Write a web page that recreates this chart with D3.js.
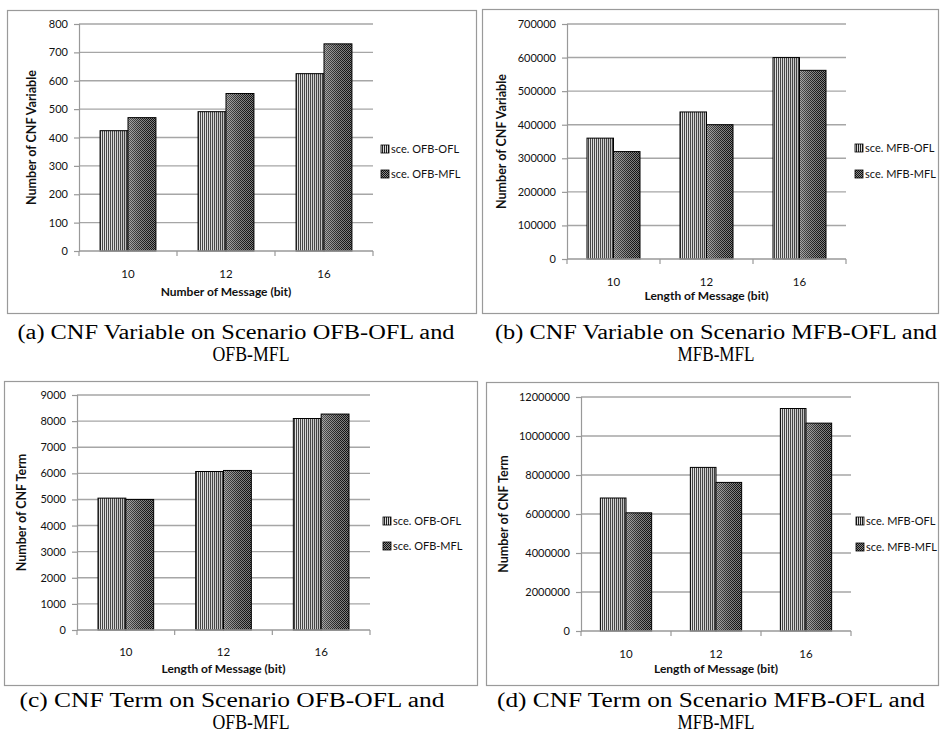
<!DOCTYPE html>
<html>
<head>
<meta charset="utf-8">
<script src="https://cdn.jsdelivr.net/npm/d3@7"></script>
<style>
  body { margin: 0; background: #fff; }
  svg { display: block; }
  .tick text { font-family: Lato, "Open Sans", sans-serif; font-size: 11px; fill: #111; }
</style>
</head>
<body>
<script>
// data
var categories = ["10", "12", "16"];

var varOfbOfl = [424, 491, 625];
var varOfbMfl = [470, 555, 730];
var varMfbOfl = [360000, 438000, 600000];
var varMfbMfl = [320000, 400000, 562000];
var termOfbOfl = [5050, 6070, 8100];
var termOfbMfl = [5000, 6110, 8270];
var termMfbOfl = [6820000, 8390000, 11410000];
var termMfbMfl = [6060000, 7620000, 10660000];

var ticksA = [0, 100, 200, 300, 400, 500, 600, 700, 800];
var ticksB = [0, 100000, 200000, 300000, 400000, 500000, 600000, 700000];
var ticksC = [0, 1000, 2000, 3000, 4000, 5000, 6000, 7000, 8000, 9000];
var ticksD = [0, 2000000, 4000000, 6000000, 8000000, 10000000, 12000000];

var legendOfb = ["sce. OFB-OFL", "sce. OFB-MFL"];
var legendMfb = ["sce. MFB-OFL", "sce. MFB-MFL"];

var captions = [
  ["(a) CNF Variable on Scenario OFB-OFL and", "OFB-MFL"],
  ["(b) CNF Variable on Scenario MFB-OFL and", "MFB-MFL"],
  ["(c) CNF Term on Scenario OFB-OFL and", "OFB-MFL"],
  ["(d) CNF Term on Scenario MFB-OFL and", "MFB-MFL"]
];

// panel layout (box, plot area, legend, labels)
var panels = [
  { box: [7, 10, 476, 313], plot: [79, 24, 373, 251], leg: [381, 149, 174], tickY: 278, titleY: 296,
    yTitleX: 32, xTitle: "Number of Message  (bit)", yTitle: "Number of CNF Variable",
    s1: varOfbOfl, s2: varOfbMfl, ticks: ticksA, legend: legendOfb,
    cap: captions[0], capX: 236, capY: 339, capW: 437, cap2X: 251 },
  { box: [482, 9, 938, 313], plot: [567, 24, 846, 259], leg: [855, 148, 174], tickY: 286, titleY: 300,
    yTitleX: 502, xTitle: "Length of Message  (bit)", yTitle: "Number of CNF Variable",
    s1: varMfbOfl, s2: varMfbMfl, ticks: ticksB, legend: legendMfb,
    cap: captions[1], capX: 716, capY: 339, capW: 442, cap2X: 716 },
  { box: [4, 381, 477, 685], plot: [77, 395, 370, 630], leg: [383, 521, 546], tickY: 656, titleY: 673,
    yTitleX: 22, xTitle: "Length of Message  (bit)", yTitle: "Number of CNF Term",
    s1: termOfbOfl, s2: termOfbMfl, ticks: ticksC, legend: legendOfb,
    cap: captions[2], capX: 232, capY: 707, capW: 425, cap2X: 251 },
  { box: [486, 382, 938, 685], plot: [581, 397, 851, 631], leg: [856, 521, 547], tickY: 658, titleY: 673,
    yTitleX: 504, xTitle: "Length of Message  (bit)", yTitle: "Number of CNF Term",
    s1: termMfbOfl, s2: termMfbMfl, ticks: ticksD, legend: legendMfb,
    cap: captions[3], capX: 711, capY: 707, capW: 428, cap2X: 716 }
];

var svg = d3.select("body").append("svg")
    .attr("width", 940)
    .attr("height", 742);

// fill patterns imitating the Excel pattern fills
var defs = svg.append("defs");
var stripe = defs.append("pattern").attr("id", "pOfl")
    .attr("width", 2).attr("height", 2).attr("patternUnits", "userSpaceOnUse");
stripe.append("rect").attr("width", 1).attr("height", 2).attr("fill", "#222");
stripe.append("rect").attr("x", 1).attr("width", 1).attr("height", 2).attr("fill", "#ddd");

var check = defs.append("pattern").attr("id", "pMfl")
    .attr("width", 2).attr("height", 2).attr("patternUnits", "userSpaceOnUse");
check.append("rect").attr("width", 2).attr("height", 2).attr("fill", "#8a8a8a");
check.append("rect").attr("width", 1).attr("height", 1).attr("fill", "#111");
check.append("rect").attr("x", 1).attr("y", 1).attr("width", 1).attr("height", 1).attr("fill", "#111");

var gOfl = defs.append("linearGradient").attr("id", "gOfl");
gOfl.append("stop").attr("offset", "0%").attr("stop-color", "#fff").attr("stop-opacity", 0.15);
gOfl.append("stop").attr("offset", "100%").attr("stop-color", "#777").attr("stop-opacity", 0.35);
var gMfl = defs.append("linearGradient").attr("id", "gMfl");
gMfl.append("stop").attr("offset", "0%").attr("stop-color", "#fff").attr("stop-opacity", 0.3);
gMfl.append("stop").attr("offset", "100%").attr("stop-color", "#000").attr("stop-opacity", 0.1);

var fills = ["url(#pOfl)", "url(#pMfl)"];
var shades = ["url(#gOfl)", "url(#gMfl)"];

panels.forEach(function(p) {
    var g = svg.append("g");

    g.append("rect")
        .attr("x", p.box[0] + 0.5).attr("y", p.box[1] + 0.5)
        .attr("width", p.box[2] - p.box[0]).attr("height", p.box[3] - p.box[1])
        .attr("fill", "#fff").attr("stroke", "#9a9a9a").attr("stroke-width", 1.2);

    var x = d3.scaleBand()
        .domain(categories)
        .range([p.plot[0], p.plot[2]])
        .paddingInner(0.43)
        .paddingOuter(0.215);
    var x1 = d3.scaleBand().domain([0, 1]).range([0, x.bandwidth()]);
    var y = d3.scaleLinear()
        .domain([0, p.ticks[p.ticks.length - 1]])
        .range([p.plot[3], p.plot[1]]);

    // gridlines
    g.append("g").selectAll("line")
        .data(p.ticks.slice(1))
        .enter().append("line")
            .attr("x1", p.plot[0]).attr("x2", p.plot[2])
            .attr("y1", function(d) { return y(d); })
            .attr("y2", function(d) { return y(d); })
            .attr("stroke", "#a6a6a6").attr("stroke-width", 1.4);

    // y axis
    var ya = g.append("g")
        .attr("transform", "translate(" + p.plot[0] + ",0)")
        .call(d3.axisLeft(y).tickValues(p.ticks).tickFormat(d3.format("d"))
            .tickSize(5).tickPadding(6));
    ya.selectAll("line, path").attr("stroke", "#999").attr("stroke-width", 1.2);

    // bars
    var series = [p.s1, p.s2];
    series.forEach(function(vals, si) {
        var bars = g.append("g").selectAll("g")
            .data(vals)
            .enter().append("g");
        bars.append("rect")
            .attr("x", function(d, i) { return x(categories[i]) + x1(si); })
            .attr("y", function(d) { return y(d); })
            .attr("width", x1.bandwidth())
            .attr("height", function(d) { return y(0) - y(d); })
            .attr("fill", fills[si]);
        bars.append("rect")
            .attr("x", function(d, i) { return x(categories[i]) + x1(si); })
            .attr("y", function(d) { return y(d); })
            .attr("width", x1.bandwidth())
            .attr("height", function(d) { return y(0) - y(d); })
            .attr("fill", shades[si])
            .attr("stroke", "#000").attr("stroke-width", 1);
    });

    // x axis
    var xa = g.append("g")
        .attr("transform", "translate(0," + p.plot[3] + ")");
    xa.append("line")
        .attr("x1", p.plot[0]).attr("x2", p.plot[2])
        .attr("stroke", "#999").attr("stroke-width", 1.4);
    xa.selectAll(".sep")
        .data(d3.range(categories.length + 1))
        .enter().append("line")
            .attr("class", "sep")
            .attr("x1", function(i) { return p.plot[0] + i * x.step(); })
            .attr("x2", function(i) { return p.plot[0] + i * x.step(); })
            .attr("y1", 0).attr("y2", 5)
            .attr("stroke", "#999").attr("stroke-width", 1.2);
    g.selectAll(".xl")
        .data(categories)
        .enter().append("text")
            .attr("class", "xl")
            .attr("x", function(d) { return x(d) + x.bandwidth() / 2; })
            .attr("y", p.tickY)
            .attr("text-anchor", "middle")
            .attr("font-family", "Lato, 'Open Sans', sans-serif")
            .attr("font-size", 11.5).attr("fill", "#111")
            .text(function(d) { return d; });

    // axis titles
    g.append("text")
        .attr("x", (p.plot[0] + p.plot[2]) / 2)
        .attr("y", p.titleY)
        .attr("text-anchor", "middle")
        .attr("font-family", "Lato, 'Open Sans', sans-serif")
        .attr("font-size", 12).attr("font-weight", "bold").attr("fill", "#111")
        .text(p.xTitle);
    g.append("text")
        .attr("transform", "translate(" + p.yTitleX + "," + ((p.plot[1] + p.plot[3]) / 2) + ") rotate(-90)")
        .attr("text-anchor", "middle")
        .attr("dy", "0.35em")
        .attr("font-family", "Lato, 'Open Sans', sans-serif")
        .attr("font-size", 12.5).attr("font-weight", "bold").attr("fill", "#111")
        .text(p.yTitle);

    // legend
    p.legend.forEach(function(name, i) {
        var ly = p.leg[1 + i];
        g.append("rect")
            .attr("x", p.leg[0]).attr("y", ly - 4)
            .attr("width", 8).attr("height", 8)
            .attr("fill", fills[i]);
        g.append("rect")
            .attr("x", p.leg[0]).attr("y", ly - 4)
            .attr("width", 8).attr("height", 8)
            .attr("fill", "none").attr("stroke", "#000").attr("stroke-width", 0.8);
        g.append("text")
            .attr("x", p.leg[0] + 10).attr("y", ly)
            .attr("dy", "0.35em")
            .attr("font-family", "Lato, 'Open Sans', sans-serif")
            .attr("font-size", 11).attr("fill", "#111")
            .text(name);
    });

    // caption below the panel, two lines of serif text
    svg.append("text")
        .attr("x", p.capX).attr("y", p.capY)
        .attr("text-anchor", "middle")
        .attr("font-family", "'Liberation Serif', 'Times New Roman', serif")
        .attr("font-size", 20)
        .attr("textLength", p.capW).attr("lengthAdjust", "spacingAndGlyphs")
        .text(p.cap[0]);
    svg.append("text")
        .attr("x", p.cap2X).attr("y", p.capY + 22)
        .attr("text-anchor", "middle")
        .attr("font-family", "'Liberation Serif', 'Times New Roman', serif")
        .attr("font-size", 20)
        .attr("textLength", 77).attr("lengthAdjust", "spacingAndGlyphs")
        .text(p.cap[1]);
});
</script>
</body>
</html>
